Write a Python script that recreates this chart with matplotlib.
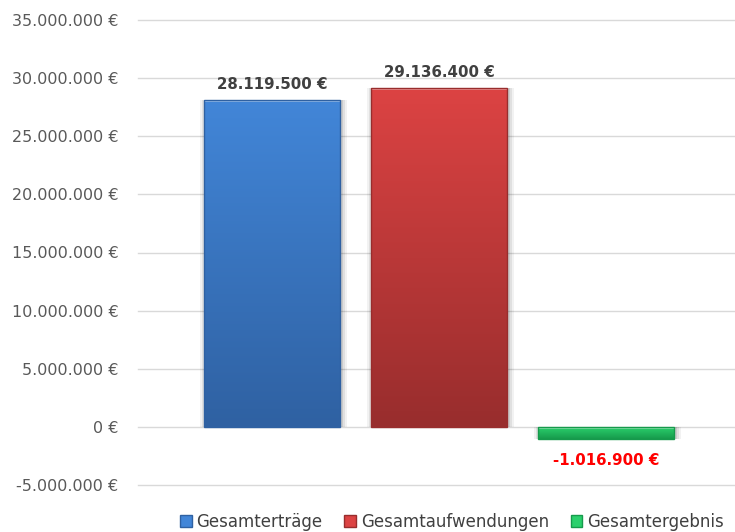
#!/usr/bin/env python3
# coding: utf-8

import numpy as np
import matplotlib
matplotlib.use('Agg')
import matplotlib.pyplot as plt
from matplotlib.patches import Patch
from matplotlib.colors import LinearSegmentedColormap
from matplotlib.ticker import FuncFormatter

categories = ['Gesamterträge', 'Gesamtaufwendungen', 'Gesamtergebnis']
values = [28119500, 29136400, -1016900]
yticks = [-5000000, 0, 5000000, 10000000, 15000000, 20000000, 25000000, 30000000, 35000000]

# top colour, bottom colour per bar
top_colors = ['#4286d8', '#dc4343', '#2bd06c']
bottom_colors = ['#2f61a2', '#982d2d', '#169a4c']
label_colors = ['#404040', '#404040', '#ff0000']


def euro(v, pos=None):
    s = '{:,.0f}'.format(v).replace(',', '.')
    return s + ' €'


fig = plt.figure(figsize=(7.35, 5.32), dpi=100)
ax = fig.add_axes([138/735, 47/532, 1 - 138/735, 465/532])

x = np.arange(len(categories))
width = 0.81
bars = ax.bar(x, values, width=width, color='none', zorder=3)

ax.set_xlim(-0.802, 2.773)
ax.set_ylim(-5000000, 35000000)

grad = np.linspace(0, 1, 256).reshape(-1, 1)
for i, b in enumerate(bars):
    x0, y0 = b.get_x(), b.get_y()
    w, h = b.get_width(), b.get_height()
    ylo, yhi = min(y0, y0 + h), max(y0, y0 + h)
    # soft shadow
    for k, a in enumerate([0.05, 0.07, 0.09]):
        d = (3 - k) * 0.012
        ax.bar(x[i] + 0.01, values[i], width=w + 2 * d, bottom=0,
               color='black', alpha=a, zorder=2, linewidth=0)
    cmap = LinearSegmentedColormap.from_list('g%d' % i, [bottom_colors[i], top_colors[i]])
    im = ax.imshow(grad, extent=[x0, x0 + w, ylo, yhi], origin='lower',
                   cmap=cmap, aspect='auto', zorder=3)
    im.set_clip_path(b)
    # bevel edges
    ax.plot([x0, x0 + w], [yhi, yhi], color='white', alpha=0.45, lw=2, zorder=4,
            solid_capstyle='butt')
    ax.bar(x[i], values[i], width=w, color='none', edgecolor=bottom_colors[i],
           linewidth=1.0, zorder=4)

for i, v in enumerate(values):
    if v >= 0:
        ax.annotate(euro(v), (x[i], v), xytext=(0, 6), textcoords='offset points',
                    ha='center', va='bottom', fontsize=10.8, fontweight='bold',
                    color=label_colors[i])
    else:
        ax.annotate(euro(v), (x[i], v), xytext=(0, -10), textcoords='offset points',
                    ha='center', va='top', fontsize=10.8, fontweight='bold',
                    color=label_colors[i])

ax.set_yticks(yticks)
ax.yaxis.set_major_formatter(FuncFormatter(euro))
ax.tick_params(axis='y', length=0, pad=14, labelsize=11.5, labelcolor='#595959')
ax.set_xticks([])
ax.grid(axis='y', color='#d9d9d9', linewidth=1, zorder=0)
ax.set_axisbelow(True)
for line in ax.get_ygridlines():
    line.set_clip_on(False)
for s in ax.spines.values():
    s.set_visible(False)

handles = [Patch(facecolor=top_colors[i], edgecolor=bottom_colors[i], label=categories[i])
           for i in range(len(categories))]
fig.legend(handles=handles, loc='center', bbox_to_anchor=(452/735, 1 - 522/532),
           ncol=3, frameon=False, fontsize=12, labelcolor='#404040',
           handlelength=0.7, handleheight=0.7, handletextpad=0.3, columnspacing=1.3)

plt.savefig('out.png', dpi=100)
